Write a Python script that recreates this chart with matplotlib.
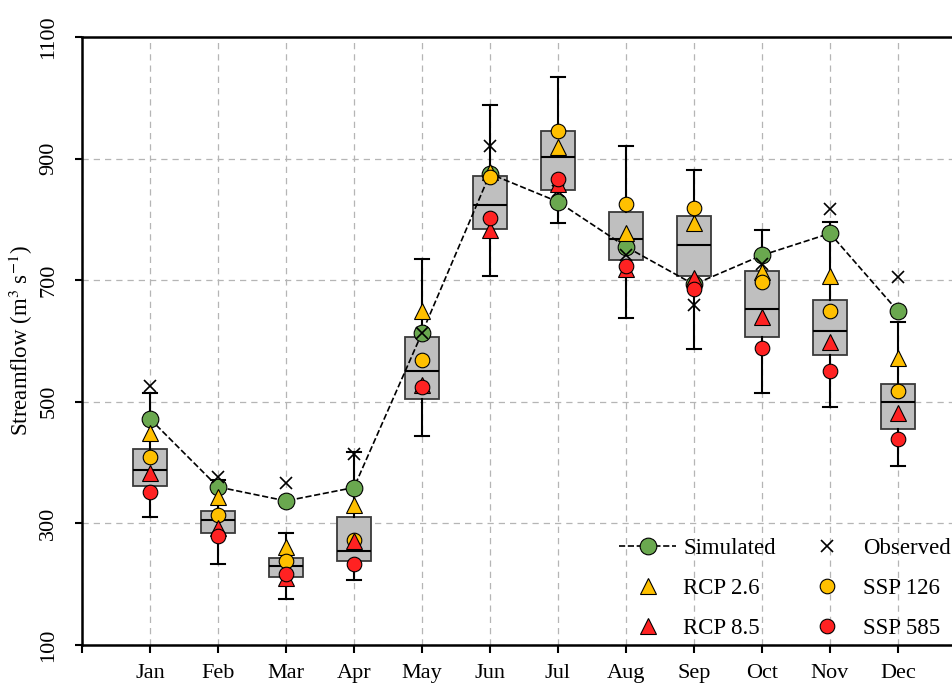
import matplotlib
matplotlib.use("Agg")
import matplotlib.pyplot as plt

plt.rcParams['font.family'] = ['Liberation Serif', 'DejaVu Serif']
plt.rcParams['mathtext.fontset'] = 'stix'

months = ['Jan', 'Feb', 'Mar', 'Apr', 'May', 'Jun', 'Jul', 'Aug', 'Sep', 'Oct', 'Nov', 'Dec']

# box plot stats (whisker low, q1, median, q3, whisker high)
whis_lo = [310, 234, 175, 207, 444, 707, 794, 638, 587, 515, 491, 395]
q1 = [362, 284, 212, 238, 504, 784, 848, 734, 707, 607, 577, 455]
med = [388, 305, 230, 255, 550, 823, 902, 767, 758, 653, 617, 499]
q3 = [423, 321, 243, 310, 606, 871, 945, 813, 806, 715, 667, 529]
whis_hi = [515, 372, 284, 418, 735, 988, 1034, 921, 881, 783, 796, 632]

simulated = [472, 360, 337, 359, 613, 875, 829, 755, 693, 741, 777, 649]
observed = [526, 377, 367, 414, 613, 921, 846, 741, 660, 727, 817, 706]
rcp26 = [449, 343, 262, 331, 649, 878, 919, 778, 794, 714, 707, 572]
ssp126 = [409, 314, 238, 273, 569, 869, 945, 825, 818, 697, 649, 517]
rcp85 = [383, 292, 210, 271, 528, 783, 859, 719, 704, 639, 599, 481]
ssp585 = [352, 279, 217, 234, 524, 803, 866, 724, 685, 588, 550, 439]

x = list(range(1, 13))

fig = plt.figure(figsize=(9.53, 6.88), dpi=100)
ax = fig.add_axes([0.086, 0.0625, 0.9276, 0.8837])

stats = []
for i in range(12):
    stats.append(dict(whislo=whis_lo[i], q1=q1[i], med=med[i], q3=q3[i], whishi=whis_hi[i], fliers=[]))

ax.bxp(stats, positions=x, widths=0.5, patch_artist=True, showfliers=False,
       boxprops=dict(facecolor='#bfbfbf', edgecolor='#3a3a3a', linewidth=1.3),
       medianprops=dict(color='black', linewidth=1.5),
       whiskerprops=dict(color='black', linewidth=1.5),
       capprops=dict(color='black', linewidth=1.5),
       capwidths=0.2, zorder=2)

green = '#6aa84f'
yellow = '#ffc000'
red = '#ff2222'

sim_line, = ax.plot(x, simulated, linestyle='--', color='black', linewidth=1.2,
                    marker='o', markersize=12, markerfacecolor=green,
                    markeredgecolor='black', markeredgewidth=0.8, zorder=3, label='Simulated')
obs, = ax.plot(x, observed, linestyle='none', marker='x', markersize=8, color='black',
               markeredgewidth=1.2, zorder=4, label='Observed')
r26, = ax.plot(x, rcp26, linestyle='none', marker='^', markersize=11, markerfacecolor=yellow,
               markeredgecolor='black', markeredgewidth=0.8, zorder=5, label='RCP 2.6')
s126, = ax.plot(x, ssp126, linestyle='none', marker='o', markersize=10.5, markerfacecolor=yellow,
                markeredgecolor='black', markeredgewidth=0.8, zorder=6, label='SSP 126')
r85, = ax.plot(x, rcp85, linestyle='none', marker='^', markersize=11, markerfacecolor=red,
               markeredgecolor='black', markeredgewidth=0.8, zorder=7, label='RCP 8.5')
s585, = ax.plot(x, ssp585, linestyle='none', marker='o', markersize=10.5, markerfacecolor=red,
                markeredgecolor='black', markeredgewidth=0.8, zorder=8, label='SSP 585')

ax.set_xlim(0, 13)
ax.set_ylim(100, 1100)
ax.set_xticks([0] + x)
ax.set_xticklabels([''] + months)
ax.set_yticks(range(100, 1101, 200))
ax.tick_params(axis='y', labelrotation=90, labelsize=16, width=1.5, length=5, pad=12)
ax.tick_params(axis='x', labelsize=16, width=1.5, length=6, pad=8)
for lab in ax.get_yticklabels():
    lab.set_va('center')

ax.grid(True, linestyle=(0, (5, 4)), color='#b5b5b5', linewidth=0.9, zorder=0)
ax.set_axisbelow(True)
for s in ['left', 'bottom', 'top']:
    ax.spines[s].set_linewidth(1.8)
ax.spines['right'].set_visible(False)

ax.set_ylabel('Streamflow (m$^3$ s$^{-1}$)', fontsize=16.5, labelpad=3)

ax.legend(handles=[sim_line, r26, r85, obs, s126, s585], ncol=2, frameon=False,
          fontsize=16.5, loc='lower right', bbox_to_anchor=(1.007, 0.058),
          bbox_transform=fig.transFigure, handlelength=2.5, handletextpad=0.3,
          columnspacing=1.0, labelspacing=0.82, borderaxespad=0)

fig.savefig('out.png', dpi=100)
